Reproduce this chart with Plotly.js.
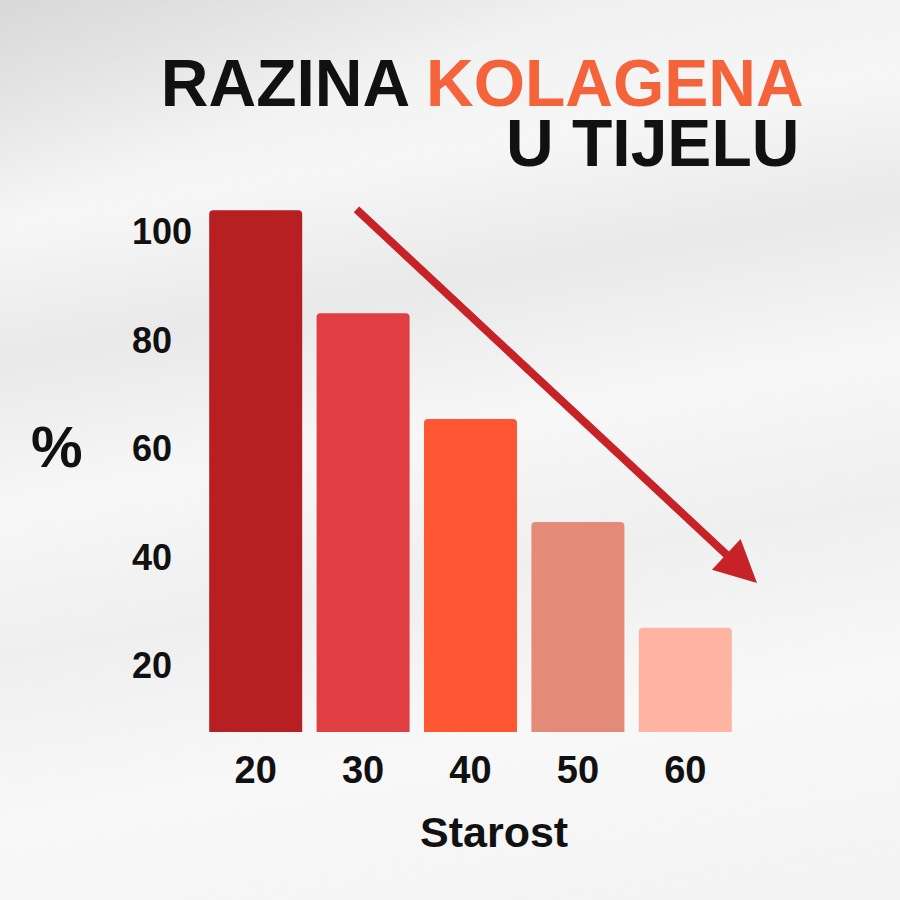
<!DOCTYPE html>
<html>
<head>
<meta charset="utf-8">
<script src="https://cdn.plot.ly/plotly-3.0.1.min.js"></script>
<style>
  html, body { margin: 0; padding: 0; }
  body {
    width: 900px; height: 900px; overflow: hidden;
    background:
      linear-gradient(160deg, rgba(200,200,200,0.55) 0%, rgba(255,255,255,0) 18%),
      linear-gradient(170deg, #ececec 0%, #f6f6f6 22%, #e9e9e9 34%, #f7f7f7 48%, #efefef 62%, #f8f8f8 78%, #f3f3f3 100%);
  }
  #chart { width: 900px; height: 900px; }
</style>
</head>
<body>
<div id="chart"></div>
<script>
// Data
const ages = ['20', '30', '40', '50', '60'];
const collagen = [104, 85, 65.5, 46.5, 27];
const barColors = ['#B71F23', '#E03E43', '#FF5733', '#E38B78', '#FFB4A3'];
const yTickVals = [20, 40, 60, 80, 100];
const yTickText = ['20', '40', '60', '80', '100'];

const FONT = '"Liberation Sans", Arial, sans-serif';

const yRange = [7.8, 115.1];

const trace = {
  type: 'bar',
  x: ages,
  y: collagen,
  marker: { color: barColors, cornerradius: 4, line: { width: 0 } },
  hoverinfo: 'skip'
};

// y tick labels, left-aligned as in the reference
const yTickAnns = yTickVals.map((v, i) => ({
  xref: 'paper', yref: 'y',
  x: -0.134, y: v,
  xanchor: 'left', yanchor: 'middle',
  text: '<b>' + yTickText[i] + '</b>',
  showarrow: false,
  font: { family: FONT, size: 36, color: '#111111' }
}));

const layout = {
  width: 900, height: 900,
  paper_bgcolor: 'rgba(0,0,0,0)',
  plot_bgcolor: 'rgba(0,0,0,0)',
  margin: { l: 202, r: 161, t: 150, b: 168 },
  bargap: 0.134,
  showlegend: false,
  title: {
    text: '<b>RAZINA <span style="color:#F5633A">KOLAGENA</span></b>',
    font: { family: FONT, size: 66, color: '#111111' },
    xref: 'container', yref: 'container',
    x: 0.893, xanchor: 'right',
    y: 0.882, yanchor: 'bottom'
  },
  xaxis: {
    type: 'category',
    range: [-0.5, 4.5],
    showgrid: false, zeroline: false, showline: false,
    ticks: '',
    tickfont: { family: FONT, size: 38, color: '#111111', weight: 'bold' },
    ticklabelstandoff: 12
  },
  yaxis: {
    range: yRange,
    showgrid: false, zeroline: false, showline: false,
    showticklabels: false, ticks: '',
    fixedrange: true
  },
  annotations: [
    {
      xref: 'paper', yref: 'paper',
      x: 1.1158, y: 1.012,
      xanchor: 'right', yanchor: 'middle',
      text: '<b>U TIJELU</b>',
      showarrow: false,
      font: { family: FONT, size: 66, color: '#111111' }
    },
    {
      xref: 'paper', yref: 'paper',
      x: -0.27, y: 0.49,
      xanchor: 'center', yanchor: 'middle',
      text: '<b>%</b>',
      showarrow: false,
      font: { family: FONT, size: 58, color: '#111111' }
    },
    {
      xref: 'paper', yref: 'paper',
      x: 0.5438, y: -0.172,
      xanchor: 'center', yanchor: 'middle',
      text: '<b>Starost</b>',
      showarrow: false,
      font: { family: FONT, size: 43, color: '#111111' }
    },
    {
      xref: 'paper', yref: 'paper',
      x: 1.0335, y: 0.256,
      axref: 'pixel', ayref: 'pixel',
      ax: -402, ay: -375,
      text: '',
      showarrow: true,
      arrowhead: 2,
      arrowsize: 1.05,
      arrowwidth: 8,
      arrowcolor: '#C62228',
      standoff: 0, startstandoff: 0
    }
  ].concat(yTickAnns)
};

Plotly.newPlot('chart', [trace], layout, { displayModeBar: false, staticPlot: true });
</script>
</body>
</html>
